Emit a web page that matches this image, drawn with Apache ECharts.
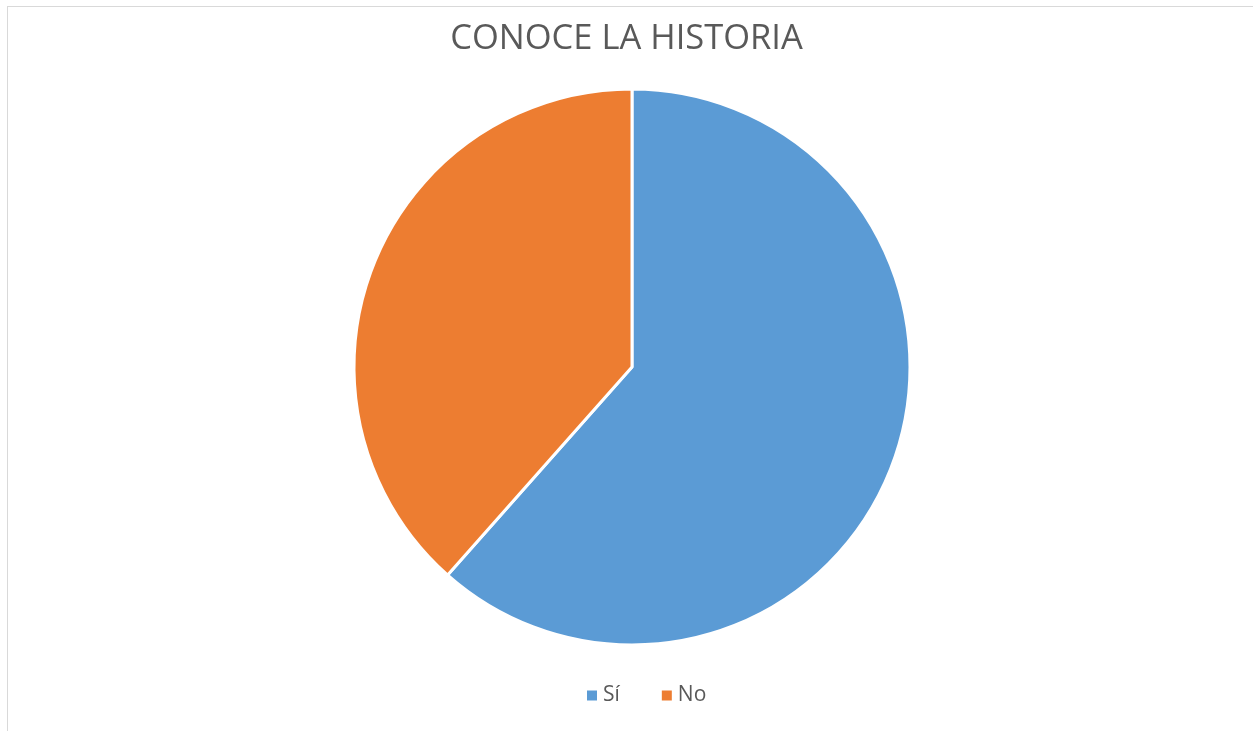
<!DOCTYPE html>
<html>
<head>
<meta charset="utf-8">
<script src="https://cdn.jsdelivr.net/npm/echarts@6/dist/echarts.min.js"></script>
<style>
html,body{margin:0;padding:0;background:#fff;}
#frame{position:absolute;left:7px;top:6px;width:1300px;height:800px;border-left:1px solid #d9d9d9;border-top:1px solid #d9d9d9;}
#main{position:absolute;left:0;top:0;width:1253px;height:731px;}
</style>
</head>
<body>
<div id="frame"></div>
<div id="main"></div>
<script>
const titleText = "CONOCE LA HISTORIA";
const categories = ["Sí", "No"];
const values = [16, 10];
const colors = ["#5B9BD5", "#ED7D31"];

const chart = echarts.init(document.getElementById('main'), null, {renderer: 'canvas'});
chart.setOption({
  animation: false,
  title: {
    text: titleText,
    left: 'center',
    top: 17,
    textStyle: {fontFamily: 'Open Sans', fontSize: 34.5, fontWeight: 'normal', color: '#595959'}
  },
  legend: {
    data: categories,
    left: 580,
    top: 680,
    icon: 'rect',
    itemWidth: 12,
    itemHeight: 12,
    itemGap: 40,
    textStyle: {fontFamily: 'Open Sans', fontSize: 21, color: '#595959'}
  },
  series: [{
    type: 'pie',
    center: [632, 367],
    radius: [0, 278],
    startAngle: 90,
    clockwise: true,
    label: {show: false},
    labelLine: {show: false},
    itemStyle: {borderColor: '#fff', borderWidth: 3},
    data: categories.map((c, i) => ({name: c, value: values[i], itemStyle: {color: colors[i]}}))
  }]
});
</script>
</body>
</html>
